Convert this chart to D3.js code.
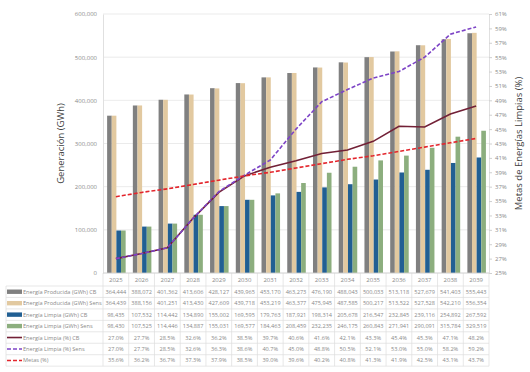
<!DOCTYPE html>
<html>
<head>
  <meta charset="utf-8">
  <title>Generacion vs Metas</title>
  <style type="text/css">
body{
  margin: 0;
  background: #fff;
}
svg text{
  font-family: "Open Sans", sans-serif;
}
  </style>
</head>
<body>
<div id="chart"></div>
<script src="https://cdn.jsdelivr.net/npm/d3@7"></script>
<script type="text/javascript">
var years = ["2025","2026","2027","2028","2029","2030","2031","2032","2033","2034","2035","2036","2037","2038","2039"];
var prodCB = [364444,388072,401362,413606,428127,439965,453170,463273,476190,488043,500033,513118,527679,541403,555443];
var prodSens = [364439,388156,401251,413430,427609,439718,453219,463377,475945,487585,500217,513522,527528,542210,556354];
var limpiaCB = [98435,107532,114442,134890,155002,169595,179763,187921,198314,205678,216547,232845,239116,254892,267592];
var limpiaSens = [98430,107525,114446,134887,155031,169577,184463,208459,232235,246175,260843,271941,290091,315784,329519];
var pctCB = [27.0,27.7,28.5,32.6,36.2,38.5,39.7,40.6,41.6,42.1,43.3,45.4,45.3,47.1,48.2];
var pctSens = [27.0,27.7,28.5,32.6,36.3,38.6,40.7,45.0,48.8,50.5,52.1,53.0,55.0,58.2,59.2];
var metas = [35.6,36.2,36.7,37.3,37.9,38.5,39.0,39.6,40.2,40.8,41.3,41.9,42.5,43.1,43.7];

var leftTicks = [0,100000,200000,300000,400000,500000,600000];
var rightTicks = d3.range(25, 62, 2);

var barSeries = [
  {name: "Energía Producida (GWh) CB", values: prodCB, color: "#808080"},
  {name: "Energía Producida (GWh) Sens", values: prodSens, color: "#e2c9a0"},
  {name: "Energía Limpia (GWh) CB", values: limpiaCB, color: "#215f93"},
  {name: "Energía Limpia (GWh) Sens", values: limpiaSens, color: "#8cae7e"}
];
var lineSeries = [
  {name: "Energía Limpia (%) CB", values: pctCB, color: "#722036", dash: null},
  {name: "Energía Limpia (%) Sens", values: pctSens, color: "#7d44c6", dash: "4,2"},
  {name: "Metas (%)", values: metas, color: "#e3262d", dash: "4,2"}
];

var W = 530, H = 372;
var pLeft = 103, pRight = 489, pTop = 14, pBottom = 273;
var svg = d3.select("#chart").append("svg").attr("width", W).attr("height", H);

var x0 = d3.scaleBand().domain(years).range([pLeft, pRight]).padding(0);
var bw = x0.bandwidth();
var x1 = d3.scaleBand().domain(d3.range(4)).range([bw * 0.16, bw * 0.88]).padding(0);
var y = d3.scaleLinear().domain([0, 600000]).range([pBottom, pTop]);
var y2 = d3.scaleLinear().domain([25, 61]).range([pBottom, pTop]);

// gridlines
svg.append("g").selectAll("line").data(leftTicks).enter().append("line")
  .attr("x1", pLeft).attr("x2", pRight)
  .attr("y1", function (d) { return y(d); }).attr("y2", function (d) { return y(d); })
  .attr("stroke", "#e6e6e6").attr("stroke-width", 0.8);

var gl = svg.append("g").call(d3.axisLeft(y).tickValues(leftTicks).tickFormat(d3.format(",")).tickSize(0).tickPadding(6));
gl.attr("transform", "translate(" + pLeft + ",0)");
gl.select(".domain").attr("stroke", "#e0e0e0");
gl.selectAll("text").attr("fill", "#8a8a8a").style("font-size", "6px");

var gr = svg.append("g").call(d3.axisRight(y2).tickValues(rightTicks).tickFormat(function (d) { return d + "%"; }).tickSize(3).tickPadding(3));
gr.attr("transform", "translate(" + pRight + ",0)");
gr.select(".domain").attr("stroke", "#e0e0e0");
gr.selectAll(".tick line").attr("stroke", "#d0d0d0");
gr.selectAll("text").attr("fill", "#8a8a8a").style("font-size", "6px");

// bars
barSeries.forEach(function (s, i) {
  svg.append("g").selectAll("rect").data(s.values).enter().append("rect")
    .attr("x", function (d, j) { return x0(years[j]) + x1(i); })
    .attr("width", x1.bandwidth())
    .attr("y", function (d) { return y(d); })
    .attr("height", function (d) { return pBottom - y(d); })
    .attr("fill", s.color);
});

// lines
lineSeries.forEach(function (s) {
  var line = d3.line()
    .x(function (d, j) { return x0(years[j]) + bw / 2; })
    .y(function (d) { return y2(d); });
  svg.append("path").datum(s.values)
    .attr("d", line)
    .attr("fill", "none")
    .attr("stroke", s.color)
    .attr("stroke-width", 1.6)
    .attr("stroke-dasharray", s.dash);
});

// axis titles
svg.append("text")
  .attr("transform", "translate(64," + ((pTop + pBottom) / 2) + ") rotate(-90)")
  .style("text-anchor", "middle")
  .style("font-size", "9.5px")
  .attr("fill", "#404040")
  .text("Generación (GWh)");
svg.append("text")
  .attr("transform", "translate(522," + ((pTop + pBottom) / 2) + ") rotate(-90)")
  .style("text-anchor", "middle")
  .style("font-size", "9.5px")
  .attr("fill", "#404040")
  .text("Metas de Energías Limpias (%)");

// data table
var tLeft = 6, headBottom = 286, rowH = 11.45;
var rows = barSeries.concat(lineSeries);
var tBottom = headBottom + rows.length * rowH;
var grid = svg.append("g").attr("stroke", "#dcdcdc").attr("stroke-width", 0.7);

// vertical separators
grid.selectAll("line.v").data(years.concat(["end"])).enter().append("line")
  .attr("x1", function (d, j) { return pLeft + j * bw; })
  .attr("x2", function (d, j) { return pLeft + j * bw; })
  .attr("y1", pBottom).attr("y2", tBottom);
grid.append("line").attr("x1", tLeft).attr("x2", tLeft).attr("y1", headBottom).attr("y2", tBottom);
grid.selectAll("line.h").data(d3.range(rows.length + 1)).enter().append("line")
  .attr("x1", tLeft).attr("x2", pRight)
  .attr("y1", function (d) { return headBottom + d * rowH; })
  .attr("y2", function (d) { return headBottom + d * rowH; });
svg.append("line").attr("x1", pLeft).attr("x2", pRight).attr("y1", pBottom).attr("y2", pBottom)
  .attr("stroke", "#d0d0d0").attr("stroke-width", 0.8);

// header years
svg.append("g").selectAll("text").data(years).enter().append("text")
  .attr("x", function (d) { return x0(d) + bw / 2; })
  .attr("y", 281.5)
  .style("text-anchor", "middle")
  .style("font-size", "6px")
  .attr("fill", "#8a8a8a")
  .text(function (d) { return d; });

var fmtN = d3.format(",");
rows.forEach(function (s, i) {
  var cy = headBottom + i * rowH + rowH / 2;
  var g = svg.append("g");
  if (i < 4) {
    g.append("rect").attr("x", 7).attr("y", cy - 2.2).attr("width", 15).attr("height", 4.4).attr("fill", s.color);
  } else {
    g.append("line").attr("x1", 7).attr("x2", 22).attr("y1", cy).attr("y2", cy)
      .attr("stroke", s.color).attr("stroke-width", 1.6).attr("stroke-dasharray", s.dash);
  }
  g.append("text").attr("x", 23).attr("y", cy + 2)
    .style("font-size", "5.6px").attr("fill", "#8a8a8a")
    .text(s.name);
  g.selectAll("text.v").data(s.values).enter().append("text")
    .attr("x", function (d, j) { return x0(years[j]) + bw / 2; })
    .attr("y", cy + 2)
    .style("text-anchor", "middle")
    .style("font-size", "5.6px")
    .attr("fill", "#8a8a8a")
    .text(function (d) { return i < 4 ? fmtN(d) : d.toFixed(1) + "%"; });
});
</script>
</body>
</html>
